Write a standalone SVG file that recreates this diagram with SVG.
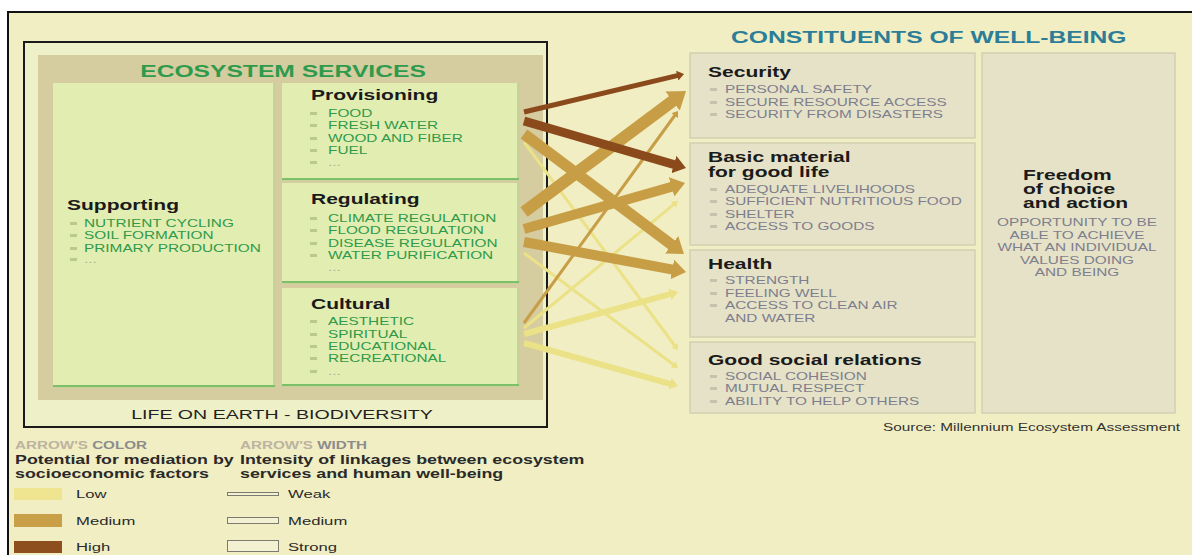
<svg xmlns="http://www.w3.org/2000/svg" width="1192" height="555" viewBox="0 0 1192 555">
<style>
text{font-family:"Liberation Sans",Arial,sans-serif}
.ttl{font-size:14.5px;font-weight:bold;fill:#1a1a1a}
.gi{font-size:10.6px;fill:#2f9a49}
.ri{font-size:10.6px;fill:#7e7e8e}
.dots{font-size:10.6px;fill:#9fb58c}
.gp{fill:#e2edb2}
.gl{fill:#7dc06a}
.gs{fill:#c7d29b}
.rp{fill:#e5e2c7;stroke:#d2ceb2;stroke-width:1.5}
.bg{fill:#b9c98f}
.br{fill:#c6c2ad}
.lg{font-size:12.3px;font-weight:bold;fill:#2a2a2a}
.lv{font-size:11.5px;fill:#2a2a2a}
.la{font-size:10.5px;font-weight:bold}
.bar{fill:#f3f1d2;stroke:#7a7a70;stroke-width:1}
</style>
<defs>
<marker id="ah-h" viewBox="0 0 10 10" refX="1" refY="5" markerWidth="2" markerHeight="2" orient="auto" markerUnits="strokeWidth"><path d="M0,0 L7,5 L0,10 z" fill="#8b4a1b"/></marker>
<marker id="ah-m" viewBox="0 0 10 10" refX="1" refY="5" markerWidth="2" markerHeight="2" orient="auto" markerUnits="strokeWidth"><path d="M0,0 L7,5 L0,10 z" fill="#c79e45"/></marker>
<marker id="ah-l" viewBox="0 0 10 10" refX="1" refY="5" markerWidth="2" markerHeight="2" orient="auto" markerUnits="strokeWidth"><path d="M0,0 L7,5 L0,10 z" fill="#ebe187"/></marker>
<marker id="ah-mt" viewBox="0 0 10 10" refX="1" refY="5" markerWidth="2.8" markerHeight="2.8" orient="auto" markerUnits="strokeWidth"><path d="M0,0 L7,5 L0,10 z" fill="#c79e45"/></marker>
<marker id="ah-lt" viewBox="0 0 10 10" refX="1" refY="5" markerWidth="2.8" markerHeight="2.8" orient="auto" markerUnits="strokeWidth"><path d="M0,0 L7,5 L0,10 z" fill="#ebe187"/></marker>
</defs>

<!-- background and frame -->
<rect x="0" y="0" width="1192" height="555" fill="#ffffff"/>
<rect x="8" y="12" width="1184" height="543" fill="#f1eec3"/>
<path d="M8,555 V12 H1192" fill="none" stroke="#111" stroke-width="2"/>

<!-- ecosystem services box -->
<g id="ecosystem-services">
<rect x="24" y="42" width="523" height="385" fill="#eef0c8" stroke="#1a1a1a" stroke-width="2"/>
<rect x="38" y="55" width="505" height="345" fill="#d5cca0"/>
<g transform="translate(283 0) scale(1.45 1)"><text x="0" y="77" text-anchor="middle" style="font-size:17px;font-weight:bold;fill:#2e9b4c">ECOSYSTEM SERVICES</text></g>
<g transform="translate(282 0) scale(1.45 1)"><text x="0" y="419" text-anchor="middle" style="font-size:13.5px;fill:#222">LIFE ON EARTH - BIODIVERSITY</text></g>
</g>

<g id="supporting">
<rect class="gs" x="53" y="83" width="223" height="305"/>
<rect class="gp" x="53" y="83" width="220" height="302"/>
<rect class="gl" x="53" y="385" width="222" height="2"/>
<g transform="translate(67 0) scale(1.45 1)"><text class="ttl" y="210">Supporting</text></g>
<rect class="bg" x="70" y="222" width="7" height="3"/>
<rect class="bg" x="70" y="234" width="7" height="3"/>
<rect class="bg" x="70" y="247" width="7" height="3"/>
<rect class="bg" x="70" y="258" width="7" height="3"/>
<g transform="translate(84 0) scale(1.45 1)">
<text class="gi" y="227">NUTRIENT CYCLING</text>
<text class="gi" y="239">SOIL FORMATION</text>
<text class="gi" y="252">PRIMARY PRODUCTION</text>
<text class="dots" y="263">...</text>
</g>
</g>

<g id="provisioning">
<rect class="gs" x="282" y="83" width="238" height="98"/>
<rect class="gp" x="282" y="83" width="235" height="95"/>
<rect class="gl" x="282" y="178" width="237" height="2"/>
<g transform="translate(311 0) scale(1.45 1)"><text class="ttl" y="100">Provisioning</text></g>
<rect class="bg" x="310" y="112" width="7" height="3"/>
<rect class="bg" x="310" y="124" width="7" height="3"/>
<rect class="bg" x="310" y="137" width="7" height="3"/>
<rect class="bg" x="310" y="149" width="7" height="3"/>
<rect class="bg" x="310" y="161" width="7" height="3"/>
<g transform="translate(328 0) scale(1.45 1)">
<text class="gi" y="117">FOOD</text>
<text class="gi" y="129">FRESH WATER</text>
<text class="gi" y="142">WOOD AND FIBER</text>
<text class="gi" y="154">FUEL</text>
<text class="dots" y="166">...</text>
</g>
</g>

<g id="regulating">
<rect class="gs" x="282" y="183" width="238" height="101"/>
<rect class="gp" x="282" y="183" width="235" height="98"/>
<rect class="gl" x="282" y="281" width="237" height="2"/>
<g transform="translate(311 0) scale(1.45 1)"><text class="ttl" y="204">Regulating</text></g>
<rect class="bg" x="310" y="217" width="7" height="3"/>
<rect class="bg" x="310" y="229" width="7" height="3"/>
<rect class="bg" x="310" y="242" width="7" height="3"/>
<rect class="bg" x="310" y="254" width="7" height="3"/>
<g transform="translate(328 0) scale(1.45 1)">
<text class="gi" y="222">CLIMATE REGULATION</text>
<text class="gi" y="234">FLOOD REGULATION</text>
<text class="gi" y="247">DISEASE REGULATION</text>
<text class="gi" y="259">WATER PURIFICATION</text>
<text class="dots" y="271">...</text>
</g>
</g>

<g id="cultural">
<rect class="gs" x="282" y="288" width="238" height="99"/>
<rect class="gp" x="282" y="288" width="235" height="96"/>
<rect class="gl" x="282" y="384" width="237" height="2"/>
<g transform="translate(311 0) scale(1.45 1)"><text class="ttl" y="309">Cultural</text></g>
<rect class="bg" x="310" y="320" width="7" height="3"/>
<rect class="bg" x="310" y="333" width="7" height="3"/>
<rect class="bg" x="310" y="345" width="7" height="3"/>
<rect class="bg" x="310" y="357" width="7" height="3"/>
<rect class="bg" x="310" y="370" width="7" height="3"/>
<g transform="translate(328 0) scale(1.45 1)">
<text class="gi" y="325">AESTHETIC</text>
<text class="gi" y="338">SPIRITUAL</text>
<text class="gi" y="350">EDUCATIONAL</text>
<text class="gi" y="362">RECREATIONAL</text>
<text class="dots" y="375">...</text>
</g>
</g>

<!-- constituents of well-being -->
<g id="constituents-title">
<g transform="translate(731 0) scale(1.45 1)"><text x="0" y="43" style="font-size:17px;font-weight:bold;fill:#2c7d98">CONSTITUENTS OF WELL-BEING</text></g>
</g>

<g id="security">
<rect class="rp" x="690" y="53" width="285" height="85"/>
<g transform="translate(708 0) scale(1.45 1)"><text class="ttl" y="77">Security</text></g>
<rect class="br" x="710" y="88" width="7" height="3"/>
<rect class="br" x="710" y="101" width="7" height="3"/>
<rect class="br" x="710" y="113" width="7" height="3"/>
<g transform="translate(725 0) scale(1.45 1)">
<text class="ri" y="93">PERSONAL SAFETY</text>
<text class="ri" y="106">SECURE RESOURCE ACCESS</text>
<text class="ri" y="118">SECURITY FROM DISASTERS</text>
</g>
</g>

<g id="basic-material">
<rect class="rp" x="690" y="143" width="285" height="102"/>
<g transform="translate(708 0) scale(1.45 1)"><text class="ttl" y="162">Basic material</text><text class="ttl" y="177">for good life</text></g>
<rect class="br" x="710" y="188" width="7" height="3"/>
<rect class="br" x="710" y="200" width="7" height="3"/>
<rect class="br" x="710" y="213" width="7" height="3"/>
<rect class="br" x="710" y="225" width="7" height="3"/>
<g transform="translate(725 0) scale(1.45 1)">
<text class="ri" y="193">ADEQUATE LIVELIHOODS</text>
<text class="ri" y="205">SUFFICIENT NUTRITIOUS FOOD</text>
<text class="ri" y="218">SHELTER</text>
<text class="ri" y="230">ACCESS TO GOODS</text>
</g>
</g>

<g id="health">
<rect class="rp" x="690" y="250" width="285" height="87"/>
<g transform="translate(708 0) scale(1.45 1)"><text class="ttl" y="269">Health</text></g>
<rect class="br" x="710" y="279" width="7" height="3"/>
<rect class="br" x="710" y="292" width="7" height="3"/>
<rect class="br" x="710" y="304" width="7" height="3"/>
<g transform="translate(725 0) scale(1.45 1)">
<text class="ri" y="284">STRENGTH</text>
<text class="ri" y="297">FEELING WELL</text>
<text class="ri" y="309">ACCESS TO CLEAN AIR</text>
<text class="ri" y="322">AND WATER</text>
</g>
</g>

<g id="good-social-relations">
<rect class="rp" x="690" y="342" width="285" height="71"/>
<g transform="translate(708 0) scale(1.45 1)"><text class="ttl" y="365">Good social relations</text></g>
<rect class="br" x="710" y="375" width="7" height="3"/>
<rect class="br" x="710" y="387" width="7" height="3"/>
<rect class="br" x="710" y="400" width="7" height="3"/>
<g transform="translate(725 0) scale(1.45 1)">
<text class="ri" y="380">SOCIAL COHESION</text>
<text class="ri" y="392">MUTUAL RESPECT</text>
<text class="ri" y="405">ABILITY TO HELP OTHERS</text>
</g>
</g>

<g id="freedom">
<rect class="rp" x="982" y="53" width="193" height="360"/>
<g transform="translate(1023 0) scale(1.45 1)">
<text class="ttl" y="180">Freedom</text>
<text class="ttl" y="194">of choice</text>
<text class="ttl" y="208">and action</text>
</g>
<g transform="translate(1077 0) scale(1.45 1)">
<text class="ri" y="226" text-anchor="middle">OPPORTUNITY TO BE</text>
<text class="ri" y="239" text-anchor="middle">ABLE TO ACHIEVE</text>
<text class="ri" y="251" text-anchor="middle">WHAT AN INDIVIDUAL</text>
<text class="ri" y="264" text-anchor="middle">VALUES DOING</text>
<text class="ri" y="276" text-anchor="middle">AND BEING</text>
</g>
</g>

<g id="source">
<g transform="translate(1180 0) scale(1.45 1)"><text x="0" y="431" text-anchor="end" style="font-size:10.6px;fill:#333">Source: Millennium Ecosystem Assessment</text></g>
</g>

<!-- connectors -->
<g id="connectors" fill="none" stroke-linecap="butt">
<line x1="524" y1="142" x2="675" y2="346" stroke="#ebe187" stroke-width="3" marker-end="url(#ah-lt)"/>
<line x1="524" y1="253" x2="674" y2="365" stroke="#ebe187" stroke-width="3" marker-end="url(#ah-lt)"/>
<line x1="524" y1="328" x2="674.1" y2="204.2" stroke="#ebe187" stroke-width="3" marker-end="url(#ah-lt)"/>
<line x1="524" y1="334" x2="671.1" y2="293.9" stroke="#ebe187" stroke-width="6" marker-end="url(#ah-l)"/>
<line x1="524" y1="343" x2="671.1" y2="384.1" stroke="#ebe187" stroke-width="6" marker-end="url(#ah-l)"/>
<line x1="524" y1="323" x2="675.1" y2="115" stroke="#c79e45" stroke-width="3" marker-end="url(#ah-mt)"/>
<line x1="524" y1="134" x2="673.4" y2="246.1" stroke="#c79e45" stroke-width="11" marker-end="url(#ah-m)"/>
<line x1="524" y1="212" x2="674.5" y2="99.6" stroke="#c79e45" stroke-width="12" marker-end="url(#ah-m)"/>
<line x1="524" y1="229" x2="673.5" y2="186.3" stroke="#c79e45" stroke-width="10" marker-end="url(#ah-m)"/>
<line x1="524" y1="242" x2="674.2" y2="269.8" stroke="#c79e45" stroke-width="10" marker-end="url(#ah-m)"/>
<line x1="524" y1="112" x2="678.2" y2="75.4" stroke="#8b4a1b" stroke-width="5" marker-end="url(#ah-h)"/>
<line x1="524" y1="121" x2="675.6" y2="165" stroke="#8b4a1b" stroke-width="9" marker-end="url(#ah-h)"/>
</g>

<!-- legend -->
<g id="legend-color">
<g transform="translate(15 0) scale(1.45 1)">
<text class="la" y="449"><tspan fill="#bdb3a0">ARROW'S </tspan><tspan fill="#8c8c8c">COLOR</tspan></text>
<text class="lg" y="464">Potential for mediation by</text>
<text class="lg" y="478">socioeconomic factors</text>
</g>
<rect x="14" y="488" width="48" height="12" fill="#efe590"/>
<rect x="14" y="514" width="48" height="13" fill="#c9a048"/>
<rect x="14" y="541" width="48" height="12" fill="#8d4f1e"/>
<g transform="translate(76 0) scale(1.45 1)">
<text class="lv" y="498">Low</text>
<text class="lv" y="525">Medium</text>
<text class="lv" y="551">High</text>
</g>
</g>

<g id="legend-width">
<g transform="translate(240 0) scale(1.45 1)">
<text class="la" y="449"><tspan fill="#bdb3a0">ARROW'S </tspan><tspan fill="#8c8c8c">WIDTH</tspan></text>
</g>
<g transform="translate(240 0) scale(1.45 1)">
<text class="lg" y="464">Intensity of linkages between ecosystem</text>
<text class="lg" y="478">services and human well-being</text>
</g>
<rect class="bar" x="227.5" y="492.5" width="51" height="3"/>
<rect class="bar" x="227.5" y="517.5" width="51" height="6"/>
<rect class="bar" x="227.5" y="540.5" width="51" height="11"/>
<g transform="translate(288 0) scale(1.45 1)">
<text class="lv" y="498">Weak</text>
<text class="lv" y="525">Medium</text>
<text class="lv" y="551">Strong</text>
</g>
</g>
</svg>
